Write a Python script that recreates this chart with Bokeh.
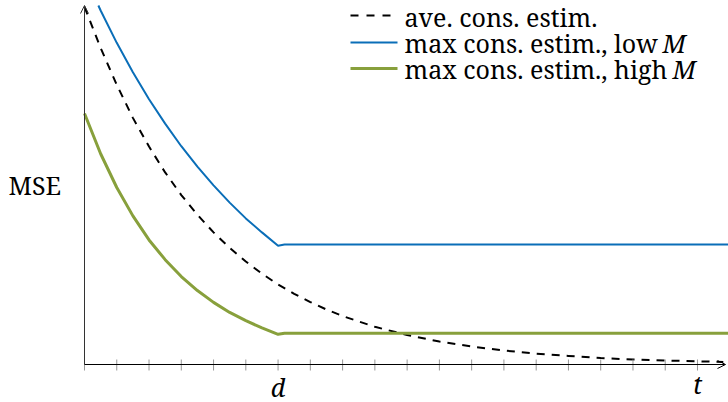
from bokeh.plotting import figure
from bokeh.models import Arrow, OpenHead, Range1d
from bokeh.core.properties import value
from bokeh.embed import file_html
from bokeh.resources import INLINE

# ---- data -------------------------------------------------------------
# average consensus estimator: MSE keeps decaying over time
t_ave = [0, 0.5, 1, 1.5, 2, 2.5, 3, 3.5, 4, 4.5, 5, 5.5, 6, 6.5, 7, 7.5, 8,
         9, 10, 11, 12, 13, 14, 15, 16, 17, 18, 19, 19.8]
mse_ave = [9.96, 8.82, 7.79, 6.87, 6.07, 5.35, 4.72, 4.17, 3.68, 3.25, 2.87,
           2.53, 2.23, 1.97, 1.74, 1.53, 1.35, 1.05, 0.82, 0.64, 0.50, 0.39,
           0.30, 0.24, 0.18, 0.14, 0.11, 0.09, 0.07]

# maximum consensus estimator, low M: decays until d, then stays flat
t_low = [0.43, 0.5, 1, 1.5, 2, 2.5, 3, 3.5, 4, 4.5, 5, 5.5, 6, 6.2, 20.5]
mse_low = [10.0, 9.86, 8.96, 8.14, 7.39, 6.71, 6.08, 5.51, 4.99, 4.51, 4.07,
           3.68, 3.31, 3.34, 3.34]

# maximum consensus estimator, high M
t_high = [0, 0.5, 1, 1.5, 2, 2.5, 3, 3.5, 4, 4.5, 5, 5.5, 6, 6.2, 20.5]
mse_high = [6.99, 5.87, 4.93, 4.14, 3.47, 2.92, 2.45, 2.06, 1.73, 1.45, 1.22,
            1.02, 0.84, 0.87, 0.87]

# time axis ticks and the labelled ones
ticks = list(range(0, 20))
tick_label_pos = [6, 19]
tick_labels = ["d", "t"]

legend_labels = ["ave. cons. estim.", "max cons. estim., low", "max cons. estim., high"]

# ---- layout -----------------------------------------------------------
W, H = 728, 402
X0_PX, Y0_PX = 84, 364      # where the axes meet
XU, YU = 32.263, 35.9       # pixels per data unit


def px2x(px):
    return (px - X0_PX) / XU


def px2y(py):
    return (Y0_PX - py) / YU


def serif_text(xs, ys, texts, italic=False, align="left"):
    p.text(x=xs, y=ys, text=texts, text_align=align, text_baseline="middle",
           text_font=value("Noto Serif"), text_font_size="25px",
           text_font_style="italic" if italic else "normal", text_color="black")


BLUE = "#0a6eb8"
GREEN = "#88a03c"

p = figure(width=W, height=H, output_backend="svg", toolbar_location=None,
           x_range=Range1d(px2x(0), px2x(W)), y_range=Range1d(px2y(H), px2y(0)),
           x_axis_location=None, y_axis_location=None, min_border=0)
p.grid.visible = False
p.outline_line_color = None
p.background_fill_color = "white"
p.border_fill_color = "white"

# curves
p.line(t_ave, mse_ave, line_color="black", line_width=2, line_dash="8 7")
p.line(t_low, mse_low, line_color=BLUE, line_width=2)
p.line(t_high, mse_high, line_color=GREEN, line_width=3)

# ticks on the time axis
p.segment(x0=ticks, y0=[px2y(359)] * len(ticks), x1=ticks, y1=[px2y(370)] * len(ticks),
          line_color="#999999", line_width=1)

# axes with arrow heads
p.add_layout(Arrow(x_start=0, y_start=0, x_end=px2x(725), y_end=0,
                   line_color="black", line_width=1,
                   end=OpenHead(size=8, line_color="black", line_width=1)))
p.add_layout(Arrow(x_start=0, y_start=0, x_end=0, y_end=px2y(5),
                   line_color="#333333", line_width=1,
                   end=OpenHead(size=8, line_color="#333333", line_width=1)))

# tick labels d and t
serif_text(tick_label_pos, [px2y(386), px2y(383)], tick_labels, italic=True, align="center")

# y label
serif_text([px2x(8)], [px2y(184)], ["MSE"])

# legend
ly = [15, 42, 68]
p.line([px2x(350), px2x(397)], [px2y(ly[0])] * 2, line_color="black", line_width=2, line_dash="8 8")
p.line([px2x(350), px2x(397)], [px2y(ly[1])] * 2, line_color=BLUE, line_width=2)
p.line([px2x(350), px2x(397)], [px2y(ly[2])] * 2, line_color=GREEN, line_width=3)
serif_text([px2x(404)] * 3, [px2y(16), px2y(42), px2y(68)], legend_labels)
serif_text([px2x(662), px2x(672)], [px2y(42), px2y(68)], ["M", "M"], italic=True)

open("out.html", "w").write(file_html(p, INLINE))
